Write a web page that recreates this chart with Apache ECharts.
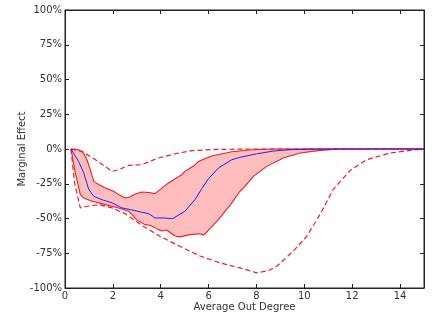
<!DOCTYPE html>
<html>
<head>
<meta charset="utf-8">
<script src="https://cdn.jsdelivr.net/npm/echarts@6/dist/echarts.min.js"></script>
<style>
html,body{margin:0;padding:0;background:#fff;}
#chart{width:436px;height:318px;}
</style>
</head>
<body>
<div id="chart"></div>
<script>
const xTicks = [0, 2, 4, 6, 8, 10, 12, 14];
const yTicks = [-100, -75, -50, -25, 0, 25, 50, 75, 100];

const meanEffect = [[0.25,0],[0.57,-9],[0.78,-17],[0.99,-29],[1.2,-34],[1.55,-36.5],[1.97,-38.8],[2.38,-42.4],[2.73,-43.6],[3.2,-45.5],[3.5,-46.5],[3.76,-49.6],[4.1,-49.6],[4.5,-50.1],[5.01,-44.8],[5.2,-41],[5.43,-36.4],[5.7,-29],[5.99,-21.5],[6.41,-13.7],[6.97,-7.7],[7.31,-6],[8.0,-3.5],[8.7,-1.5],[9.4,-0.5],[10.5,0],[15,0]];

const bandUpper = [[0.25,0],[0.4,0],[0.57,-0.5],[0.78,-3],[0.92,-7.7],[1.06,-15],[1.2,-23.3],[1.41,-25.6],[1.69,-28],[2.03,-30.4],[2.24,-32.8],[2.51,-35.2],[2.7,-34.5],[2.92,-32.5],[3.2,-30.9],[3.5,-31.3],[3.76,-32.1],[4.32,-24.4],[4.88,-18.5],[5.01,-16.1],[5.43,-11.5],[5.57,-9],[6.13,-5],[6.97,-2],[7.8,-0.5],[8.7,0],[15,0]];

const bandLower = [[0.25,0],[0.43,-17.2],[0.64,-32.8],[0.78,-35.2],[1.13,-37.6],[1.69,-40],[2.24,-42.4],[2.66,-44.8],[2.79,-47],[2.99,-50.8],[3.34,-54.4],[3.55,-54.8],[3.9,-58],[4.05,-59],[4.24,-58.3],[4.6,-62.6],[4.8,-63.2],[5.22,-61.6],[5.64,-61],[5.8,-62],[6.41,-50.8],[6.97,-38.8],[7.31,-30.4],[7.52,-26.9],[7.87,-19.7],[8.43,-12.5],[9.12,-6.5],[9.82,-2.9],[10.66,-1],[11.5,0],[15,0]];

const outerUpper = [[0.25,0],[0.71,-1.7],[1.27,-7.7],[1.97,-16.1],[2.24,-14.9],[2.66,-11.8],[3.2,-11.3],[3.9,-6.5],[4.6,-3.4],[5.29,-1.2],[6.3,-0.3],[7.7,0],[15,0]];

const outerLower = [[0.25,0],[0.4,-24.4],[0.64,-42.4],[0.92,-41.2],[1.41,-40],[1.97,-42.4],[2.51,-46.5],[3.27,-55.6],[3.97,-62.8],[4.8,-70],[5.64,-77],[6.47,-81.9],[7.31,-85.5],[8.01,-89.1],[8.5,-87.5],[8.85,-84.3],[9.54,-73.5],[10.1,-62.8],[10.66,-47],[11.21,-29],[11.91,-15.5],[12.6,-7.7],[13.58,-2.9],[14.42,-1],[15,0]];

const FONT = 'DejaVu Sans';
const chart = echarts.init(document.getElementById('chart'), null, {renderer:'canvas'});
const tickStyle = {show:true, inside:true, length:4, lineStyle:{color:'#222', width:1}};
const lineAxis = {show:true, onZero:false, lineStyle:{color:'#222', width:1}};

chart.setOption({
  animation:false,
  backgroundColor:'#fff',
  grid:{left:65, right:12, top:10, bottom:30, show:true, borderColor:'#222', borderWidth:1},
  xAxis:[{
    type:'value', min:0, max:15, interval:2, position:'bottom',
    name:'Average Out Degree', nameLocation:'middle', nameGap:14, nameMoveOverlap:false,
    nameTextStyle:{fontFamily:FONT, fontSize:10, color:'#333'},
    axisLine:lineAxis, axisTick:tickStyle, splitLine:{show:false},
    axisLabel:{fontFamily:FONT, fontSize:10, color:'#333', margin:3, showMaxLabel:false,
      formatter:v => xTicks.includes(v) ? String(v) : ''}
  },{
    type:'value', min:0, max:15, interval:2, position:'top',
    axisLine:lineAxis, axisTick:tickStyle, axisLabel:{show:false}, splitLine:{show:false}
  }],
  yAxis:[{
    type:'value', min:-100, max:100, interval:25, position:'left',
    name:'Marginal Effect', nameLocation:'middle', nameGap:38, nameRotate:90, nameMoveOverlap:false,
    nameTextStyle:{fontFamily:FONT, fontSize:10, color:'#333'},
    axisLine:lineAxis, axisTick:tickStyle, splitLine:{show:false},
    axisLabel:{fontFamily:FONT, fontSize:10, color:'#333', margin:3,
      formatter:v => yTicks.includes(v) ? v + '%' : ''}
  },{
    type:'value', min:-100, max:100, interval:25, position:'right',
    axisLine:lineAxis, axisTick:tickStyle, axisLabel:{show:false}, splitLine:{show:false}
  }],
  series:[
    {
      type:'custom', silent:true, z:1, data:[[0,0]],
      renderItem:(params, api) => {
        const pts = bandUpper.map(p => api.coord(p)).concat(bandLower.slice().reverse().map(p => api.coord(p)));
        return {type:'polygon', shape:{points:pts}, style:{fill:'#ffbdbd', stroke:null}};
      }
    },
    {type:'line', data:outerUpper, symbol:'none', z:3, lineStyle:{color:'#ee1c24', width:1.2, type:[5,3]}},
    {type:'line', data:outerLower, symbol:'none', z:3, lineStyle:{color:'#ee1c24', width:1.2, type:[5,3]}},
    {type:'line', data:bandUpper, symbol:'none', z:4, lineStyle:{color:'#ee1c24', width:1.1}},
    {type:'line', data:bandLower, symbol:'none', z:4, lineStyle:{color:'#ee1c24', width:1.1}},
    {type:'line', data:meanEffect, symbol:'none', z:5, lineStyle:{color:'#2020ff', width:1}}
  ]
});
</script>
</body>
</html>
